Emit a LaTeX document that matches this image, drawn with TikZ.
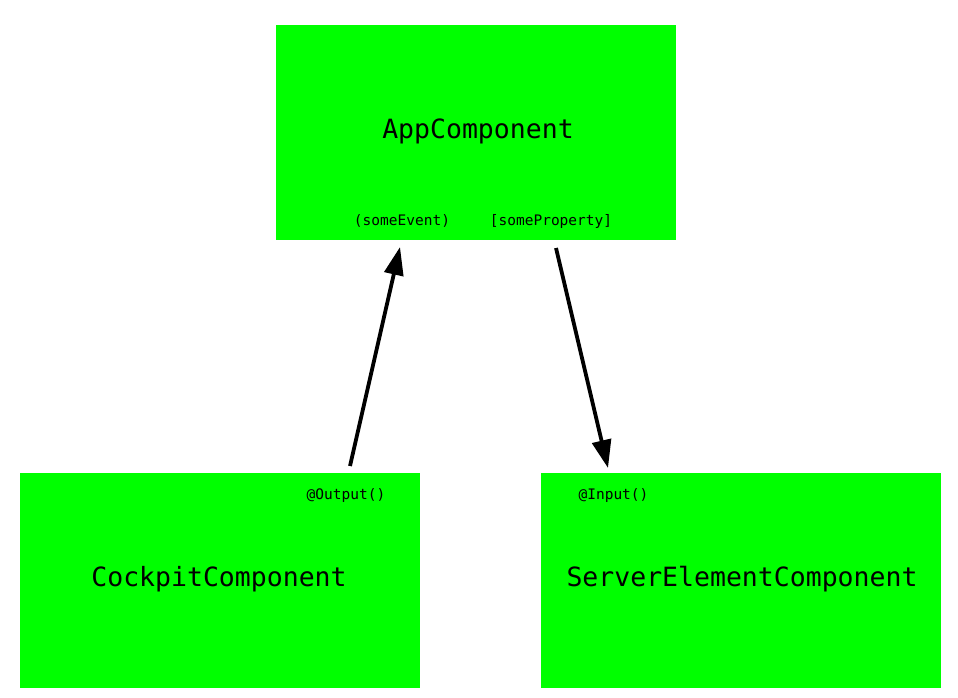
\documentclass[tikz,border=0pt]{standalone}
\usepackage{fontspec}
\setmonofont{DejaVu Sans Mono}
\usetikzlibrary{arrows.meta}
\definecolor{boxgreen}{HTML}{00FF00}
\tikzset{
  comp/.style={fill=boxgreen, draw=none, minimum width=400pt, minimum height=215pt, inner sep=0pt, anchor=north west},
  compname/.style={font=\ttfamily\fontsize{26.5}{26.5}\selectfont, inner sep=0pt},
  portname/.style={font=\ttfamily\fontsize{14.5}{14.5}\selectfont, inner sep=0pt},
  conn/.style={line width=3.8pt, -{Triangle[length=28pt,width=19pt]}}
}
\begin{document}
\begin{tikzpicture}[x=1pt,y=-1pt]
\useasboundingbox (0,0) rectangle (958,697);
\node[comp] (app) at (276,25) {};
\node[comp] (cock) at (20,473) {};
\node[comp] (serv) at (541,473) {};
\node[compname] (appname) at (478,131.5) {AppComponent};
\node[compname] (cockname) at (219,579.5) {CockpitComponent};
\node[compname] (servname) at (742,579.5) {ServerElementComponent};
\node[portname] (ev) at (402,221) {(someEvent)};
\node[portname] (prop) at (551,221) {[someProperty]};
\node[portname] (outp) at (346,495) {@Output()};
\node[portname] (inp) at (613.5,495) {@Input()};
\coordinate (outstart) at (350,466);
\coordinate (evend) at (400,247);
\coordinate (propstart) at (556,248);
\coordinate (inend) at (608,468);
\draw[conn] (outstart) -- (evend);
\draw[conn] (propstart) -- (inend);
\end{tikzpicture}
\end{document}
